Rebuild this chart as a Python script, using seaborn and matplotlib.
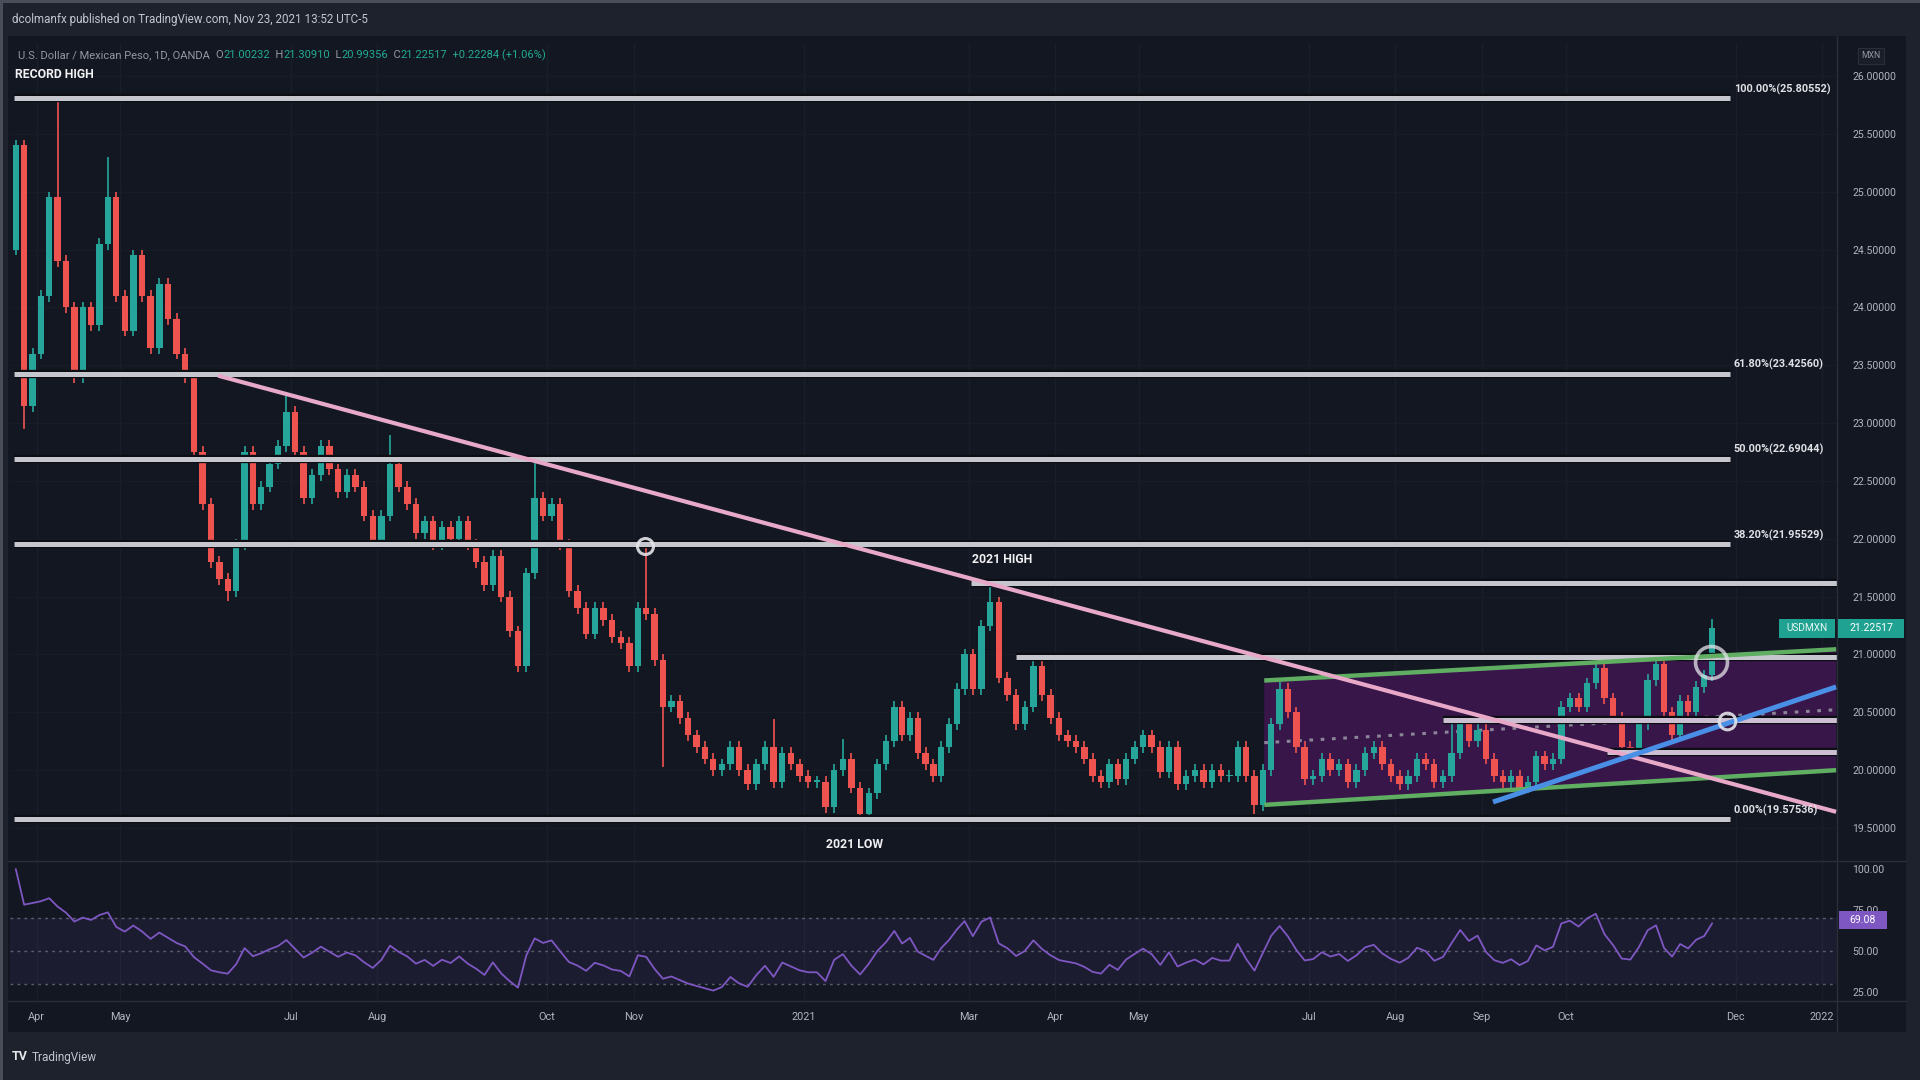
import numpy as np
import pandas as pd
import matplotlib
matplotlib.use("Agg")
import matplotlib.pyplot as plt
import matplotlib.dates as mdates
from matplotlib.patches import Rectangle, Polygon
import seaborn as sns

# ------------------------------------------------------------------ data
first_day = "2020-03-23"
last_day = "2021-11-23"
open_first = 24.50

# closes, ~10 bars per month
close_2020 = [
    [25.40, 23.15, 23.60],                                                   # Mar (from 23rd)
    [24.10, 24.95, 24.40, 24.00, 23.40, 24.00, 23.85, 24.55, 24.95, 24.10],  # Apr
    [23.80, 24.45, 24.10, 23.65, 24.20, 23.90, 23.60, 23.40, 22.75, 22.30],  # May
    [21.80, 21.65, 21.55, 21.95, 22.75, 22.30, 22.45, 22.65, 22.80, 23.10],  # Jun
    [22.75, 22.35, 22.55, 22.80, 22.60, 22.40, 22.55, 22.45, 22.20, 21.98],  # Jul
    [22.20, 22.65, 22.45, 22.30, 22.05, 22.15, 21.95, 22.10, 22.00, 22.15],  # Aug
    [21.95, 21.80, 21.60, 21.85, 21.50, 21.20, 20.90, 21.70, 22.35, 22.20],  # Sep
    [22.30, 21.95, 21.55, 21.40, 21.18, 21.40, 21.30, 21.15, 21.10, 20.90],  # Oct
    [21.40, 21.35, 20.95, 20.55, 20.60, 20.45, 20.30, 20.20, 20.10, 20.00],  # Nov
    [20.05, 20.20, 20.00, 19.88, 20.05, 20.20, 19.90, 20.15, 20.05, 19.95],  # Dec
]
close_2021 = [
    [19.90, 19.90, 19.68, 20.00, 20.10, 19.85, 19.62, 19.80, 20.05, 20.25],  # Jan
    [20.55, 20.30, 20.45, 20.15, 20.05, 19.95, 20.20, 20.40, 20.70, 21.00],  # Feb
    [20.70, 21.25, 21.45, 20.80, 20.65, 20.40, 20.55, 20.90, 20.65, 20.45],  # Mar
    [20.30, 20.25, 20.20, 20.10, 19.95, 19.90, 20.05, 19.92, 20.10, 20.20],  # Apr
    [20.30, 20.20, 19.98, 20.20, 19.88, 19.95, 20.00, 19.90, 20.00, 19.95],  # May
    [19.95, 20.20, 19.95, 19.70, 20.00, 20.40, 20.70, 20.50, 20.20, 19.92],  # Jun
    [19.95, 20.10, 20.00, 20.05, 19.90, 20.00, 20.15, 20.20, 20.05, 19.95],  # Jul
    [19.88, 19.95, 20.10, 20.05, 19.90, 19.95, 20.15, 20.40, 20.25, 20.35],  # Aug
    [20.10, 19.95, 19.90, 19.95, 19.85, 19.90, 20.12, 20.05, 20.10, 20.55],  # Sep
    [20.62, 20.55, 20.75, 20.88, 20.62, 20.45, 20.20, 20.18, 20.40, 20.78],  # Oct
    [20.92, 20.50, 20.30, 20.60, 20.50, 20.72, 20.82, 21.225],               # Nov (to 23rd)
]
wick = 0.05
high_dates = ["2020-04-07", "2020-04-25", "2020-06-28", "2020-08-04", "2020-09-25",
              "2020-11-04", "2020-12-22", "2021-01-14", "2021-03-08", "2021-03-24",
              "2021-06-20", "2021-08-22", "2021-10-11", "2021-11-02", "2021-11-22"]
high_vals = [25.78, 25.30, 23.25, 22.90, 22.66, 21.96, 20.44, 20.27, 21.63, 20.98,
             20.76, 20.45, 20.95, 20.97, 21.31]
low_dates = ["2020-03-27", "2020-06-07", "2020-11-10", "2021-01-21", "2021-06-11"]
low_vals = [22.95, 21.46, 20.03, 19.56, 19.62]

# Fibonacci retracement
fib_values = [25.80552, 23.42560, 22.69044, 21.95529, 19.57536]
fib_labels = ["100.00%(25.80552)", "61.80%(23.42560)", "50.00%(22.69044)",
              "38.20%(21.95529)", "0.00%(19.57536)"]
fib_span = ["2020-03-24", "2021-11-29"]

# horizontal levels (start date, price) extending to the right edge
level_starts = ["2021-03-02", "2021-03-18"]
level_prices = [21.62, 20.98]
box_level_starts = ["2021-08-18", "2021-10-16"]
box_level_prices = [20.43, 20.16]

# trend lines (date, price) pairs
pink_dates, pink_prices = ["2020-06-05", "2022-01-06"], [23.41, 19.64]
blue_dates, blue_prices = ["2021-09-05", "2022-01-06"], [19.725, 20.72]
chan_dates = ["2021-06-15", "2022-01-06"]
chan_upper = [20.775, 21.045]
chan_lower = [19.70, 20.00]

ring_dates = ["2020-11-05", "2021-11-22", "2021-11-28"]
ring_prices = [21.94, 20.935, 20.425]
ring_sizes = [11.5, 23, 12]

tick_dates = ["2020-04-01", "2020-05-01", "2020-07-01", "2020-08-01", "2020-10-01",
              "2020-11-01", "2021-01-01", "2021-03-01", "2021-04-01", "2021-05-01",
              "2021-07-01", "2021-08-01", "2021-09-01", "2021-10-01", "2021-12-01",
              "2022-01-01"]
tick_labels = ["Apr", "May", "Jul", "Aug", "Oct", "Nov", "2021", "Mar", "Apr", "May",
               "Jul", "Aug", "Sep", "Oct", "Dec", "2022"]
price_ticks = [19.5, 20.0, 20.5, 21.0, 21.5, 22.0, 22.5, 23.0, 23.5, 24.0, 24.5, 25.0, 25.5, 26.0]
rsi_ticks = [25, 50, 75, 100]
rsi_period = 10
last_price = 21.22517
rsi_last = 69.08

# ------------------------------------------------------------------ build bars
months = close_2020 + close_2021
month_starts = pd.date_range("2020-03-01", periods=len(months), freq="MS")
dates, closes = [], []
for k, (ms, vals) in enumerate(zip(month_starts, months)):
    start, end = ms, ms + pd.offsets.MonthBegin(1)
    if k == 0:
        start = pd.Timestamp(first_day)
    if k == len(months) - 1:
        end = pd.Timestamp(last_day) + pd.Timedelta(days=1)
    step = (end - start) / len(vals)
    for i, v in enumerate(vals):
        dates.append(start + step * (i + 0.5))
        closes.append(v)
dates = pd.DatetimeIndex(dates)
c = np.array(closes)
o = np.concatenate([[open_first], c[:-1]])
hi = np.maximum(o, c) + wick
lo = np.minimum(o, c) - wick
for d, v in zip(high_dates, high_vals):
    i = int(np.argmin(np.abs((dates - pd.Timestamp(d)).days)))
    hi[i] = max(hi[i], v)
for d, v in zip(low_dates, low_vals):
    i = int(np.argmin(np.abs((dates - pd.Timestamp(d)).days)))
    lo[i] = min(lo[i], v)
xd = mdates.date2num(dates)

ser = pd.Series(np.concatenate([[open_first], c]))
delta = ser.diff().iloc[1:].reset_index(drop=True)
ag = delta.clip(lower=0).ewm(alpha=1 / rsi_period, adjust=False).mean()
al = (-delta.clip(upper=0)).ewm(alpha=1 / rsi_period, adjust=False).mean()
rsi = 100 - 100 / (1 + ag / al.replace(0, 1e-9))
rsi_df = pd.DataFrame({"date": dates, "rsi": rsi.values})

# ------------------------------------------------------------------ figure
sns.set_theme(style="dark")
plt.rcParams["font.family"] = ["Roboto", "DejaVu Sans"]
W, H = 1920, 1080
BG = "#131722"
TXT = "#b2b5be"
fig = plt.figure(figsize=(19.2, 10.8), dpi=100, facecolor="#1e222d")


def fx(px):
    return px / W


def fy(py):
    return 1 - py / H


def frect(x0, y0, x1, y1, color, z=0, **kw):
    fig.add_artist(Rectangle((fx(x0), fy(y1)), fx(x1) - fx(x0), fy(y0) - fy(y1),
                             transform=fig.transFigure, facecolor=color,
                             edgecolor="none", zorder=z, **kw))


frect(0, 0, 1920, 3, "#4a4e5a")
frect(0, 0, 3, 1080, "#4a4e5a")
frect(8, 36, 1906, 1032, BG, z=0)

ax = fig.add_axes([fx(10), fy(861), fx(1837) - fx(10), fy(43) - fy(861)])
axr = fig.add_axes([fx(10), fy(1001), fx(1837) - fx(10), fy(861) - fy(1001)])
x_left = mdates.date2num(pd.Timestamp("2020-04-01") - pd.Timedelta(days=9.57))
x_right = mdates.date2num(pd.Timestamp("2020-04-01") + pd.Timedelta(days=645.3))
for a in (ax, axr):
    a.set_facecolor(BG)
    a.set_xlim(x_left, x_right)
    for s in a.spines.values():
        s.set_visible(False)
    a.set_xticks(mdates.date2num(pd.to_datetime(tick_dates)))
    a.grid(True, axis="x", color="#1a1e2a", lw=1)
    a.set_axisbelow(True)
ax.set_ylim(19.215, 26.285)
axr.set_ylim(19.5, 104.9)

ax.set_yticks(price_ticks)
ax.grid(True, axis="y", color="#181c27", lw=1)

# ---- channel fill (under candles)
cx = mdates.date2num(pd.to_datetime(chan_dates))
ax.add_patch(Polygon([(cx[0], chan_upper[0]), (cx[1], chan_upper[1]),
                      (cx[1], chan_lower[1]), (cx[0], chan_lower[0])],
                     closed=True, facecolor="#38164a", edgecolor="none", zorder=1))
ax.plot(cx, [(u + l) / 2 for u, l in zip(chan_upper, chan_lower)], color="#8b8598",
        lw=2.2, ls=(0, (1.2, 2.5)), zorder=2)

# ---- candles
col = np.where(c >= o, "#26a69a", "#ef5350")
ax.vlines(xd, lo, hi, colors=col, lw=1.2, zorder=3)
ax.bar(xd, np.maximum(np.abs(c - o), 0.012), bottom=np.minimum(o, c), width=2.3,
       color=col, linewidth=0, zorder=4)


def level(a, x0, x1, y, color="#c6c7ce", z=6, lw=3.6):
    a.plot([x0, x1], [y, y], color="#0c0e14", lw=lw + 2.4, solid_capstyle="butt", zorder=z)
    a.plot([x0, x1], [y, y], color=color, lw=lw, solid_capstyle="butt", zorder=z + 0.1)


fx0, fx1 = mdates.date2num(pd.to_datetime(fib_span))
for v, lab in zip(fib_values, fib_labels):
    level(ax, fx0, fx1, v)
    ax.annotate(lab, (fx1, v), xytext=(2.5, 6.5), textcoords="offset points",
                color="#e0e1e6", fontsize=7.8, fontweight="bold", va="center", ha="left",
                zorder=8)
for d, v in zip(level_starts, level_prices):
    level(ax, mdates.date2num(pd.Timestamp(d)), x_right, v)
for d, v in zip(box_level_starts, box_level_prices):
    level(ax, mdates.date2num(pd.Timestamp(d)), x_right, v, color="#cdbfd2")

ax.plot(cx, chan_upper, color="#5fae62", lw=3.2, zorder=7, solid_capstyle="butt")
ax.plot(cx, chan_lower, color="#5fae62", lw=3.2, zorder=7, solid_capstyle="butt")
ax.plot(mdates.date2num(pd.to_datetime(pink_dates)), pink_prices, color="#e8a9c9",
        lw=3.0, zorder=7.5, solid_capstyle="butt")
ax.plot(mdates.date2num(pd.to_datetime(blue_dates)), blue_prices, color="#4a8fe6",
        lw=3.6, zorder=7.6, solid_capstyle="butt")
for d, v, s in zip(ring_dates, ring_prices, ring_sizes):
    ax.plot(mdates.date2num(pd.Timestamp(d)), v, marker="o", ms=s, mfc="none",
            mec="#e4e4ea", mew=2.2 if s < 20 else 2.6, alpha=0.9 if s < 20 else 0.75, zorder=9)

ax.text(mdates.date2num(pd.Timestamp("2021-03-13")), 21.82, "2021 HIGH", color="#f0f0f3",
        fontsize=8.8, fontweight="bold", ha="center", va="center", zorder=9)
ax.text(mdates.date2num(pd.Timestamp("2021-01-19")), 19.36, "2021 LOW", color="#f0f0f3",
        fontsize=8.8, fontweight="bold", ha="center", va="center", zorder=9)

ax.yaxis.tick_right()
ax.set_yticklabels([f"{v:.5f}" for v in price_ticks])
ax.tick_params(axis="y", length=0, pad=11, labelsize=7.6, labelcolor=TXT)
ax.tick_params(axis="x", length=0, labelbottom=False)
ax.set_xlabel("")
ax.set_ylabel("")

# ---- RSI panel
axr.axhspan(30, 70, color="#7e57c2", alpha=0.09, lw=0, zorder=1)
for lvl in (70, 50, 30):
    axr.axhline(lvl, color="#787b86", lw=1.0, ls=(0, (2, 3)), alpha=0.7, zorder=2)
sns.lineplot(data=rsi_df, x="date", y="rsi", ax=axr, color="#7e57c2", lw=1.3, zorder=3)
axr.set_xlim(x_left, x_right)
axr.set_xlabel("")
axr.set_ylabel("")
axr.yaxis.tick_right()
axr.set_yticks(rsi_ticks)
axr.set_yticklabels([f"{v:.2f}" for v in rsi_ticks])
axr.tick_params(axis="y", length=0, pad=11, labelsize=7.6, labelcolor=TXT)
axr.set_xticklabels(tick_labels)
axr.tick_params(axis="x", length=0, pad=8, labelsize=7.8, labelcolor=TXT)

fig.add_artist(plt.Line2D([fx(1837), fx(1837)], [fy(36), fy(1032)], color="#2a2e39", lw=1,
                          transform=fig.transFigure))
for yy in (861, 1001):
    fig.add_artist(plt.Line2D([fx(8), fx(1906)], [fy(yy), fy(yy)], color="#2a2e39", lw=1,
                              transform=fig.transFigure))

# ---- price / RSI tags
fig.canvas.draw()
py = H - ax.transData.transform((0, last_price))[1]
frect(1779, py - 9.5, 1835, py + 9.5, "#1fa291", z=10)
frect(1838, py - 9.5, 1904, py + 9.5, "#1fa291", z=10)
fig.text(fx(1807), fy(py), "USDMXN", color="#eaf7f4", fontsize=7.2, ha="center", va="center", zorder=11)
fig.text(fx(1871), fy(py), f"{last_price:.5f}", color="#ffffff", fontsize=7.6, ha="center", va="center", zorder=11)
ry = H - axr.transData.transform((0, rsi_last))[1]
frect(1839, ry - 9, 1887, ry + 9, "#7e57c2", z=10)
fig.text(fx(1863), fy(ry), f"{rsi_last:.2f}", color="#ffffff", fontsize=7.6, ha="center", va="center", zorder=11)
fig.text(fx(1871), fy(56), "MXN", color="#9598a1", fontsize=6.2, ha="center", va="center",
         bbox=dict(boxstyle="square,pad=0.35", fc="#1a1e29", ec="#2a2e39", lw=0.8))

# ---- header, legend, footer
fig.text(fx(12), fy(20), "dcolmanfx published on TradingView.com, Nov 23, 2021 13:52 UTC-5",
         color="#c3c6cf", fontsize=8.4, ha="left", va="center")
renderer = fig.canvas.get_renderer()
pieces = [("U.S. Dollar / Mexican Peso, 1D, OANDA  ", "#9598a1"), ("O", "#9598a1"),
          ("21.00232", "#22ab94"), ("  H", "#9598a1"), ("21.30910", "#22ab94"),
          ("  L", "#9598a1"), ("20.99356", "#22ab94"), ("  C", "#9598a1"),
          ("21.22517", "#22ab94"), ("  +0.22284 (+1.06%)", "#22ab94")]
xpos = 18
for s, colr in pieces:
    t = fig.text(fx(xpos), fy(55), s, color=colr, fontsize=8.0, ha="left", va="center")
    bb = t.get_window_extent(renderer)
    xpos += bb.width
fig.text(fx(15), fy(74), "RECORD HIGH", color="#f2f2f5", fontsize=8.8, fontweight="bold",
         ha="left", va="center")
fig.text(fx(12), fy(1057), "TV", color="#e6e7ea", fontsize=9, fontweight="bold", ha="left", va="center")
fig.text(fx(32), fy(1057), "TradingView", color="#c3c6cf", fontsize=8.5, ha="left", va="center")

fig.savefig("out.png", dpi=100, facecolor=fig.get_facecolor())
